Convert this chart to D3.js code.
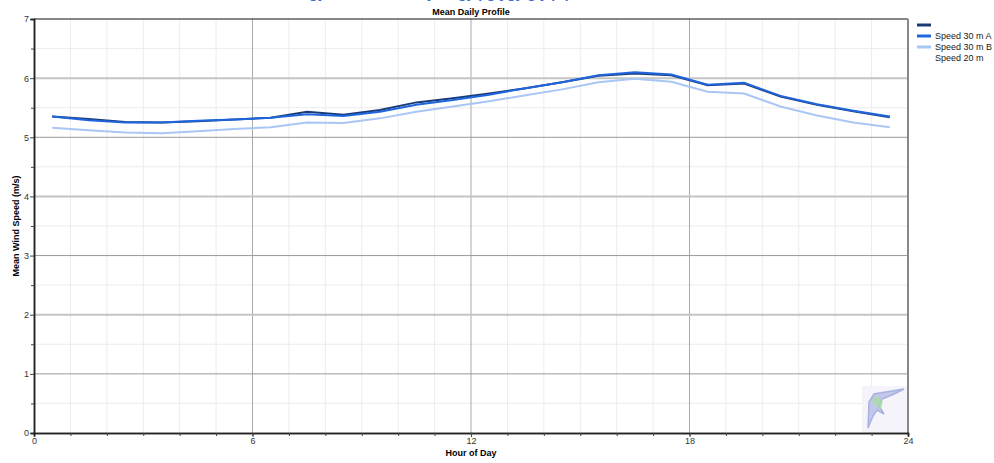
<!DOCTYPE html>
<html lang="en">
<head>
<meta charset="utf-8">
<title>Mean Daily Profile</title>
<script src="https://d3js.org/d3.v7.min.js"></script>
<style>
  body { margin: 0; background-color: #fff; }
  svg { display: block; background-color: #fff; font-family: "Liberation Sans", Arial, sans-serif; }
  .tick text { fill: #333; font-size: 9px; }
</style>
</head>
<body>
<script>

// hours of day (mid-hour bins)
var hours = [0.5, 1.5, 2.5, 3.5, 4.5, 5.5, 6.5, 7.5, 8.5, 9.5, 10.5, 11.5,
             12.5, 13.5, 14.5, 15.5, 16.5, 17.5, 18.5, 19.5, 20.5, 21.5, 22.5, 23.5];

var speed30A = [5.35, 5.31, 5.26, 5.25, 5.27, 5.30, 5.33, 5.43, 5.38, 5.46, 5.59, 5.66,
                5.74, 5.83, 5.93, 6.04, 6.08, 6.05, 5.88, 5.91, 5.69, 5.55, 5.44, 5.34];
var speed30B = [5.35, 5.29, 5.25, 5.25, 5.28, 5.30, 5.33, 5.39, 5.36, 5.43, 5.55, 5.63,
                5.72, 5.83, 5.93, 6.05, 6.10, 6.06, 5.89, 5.92, 5.70, 5.56, 5.45, 5.35];
var speed20 = [5.16, 5.12, 5.08, 5.07, 5.10, 5.14, 5.17, 5.25, 5.24, 5.32, 5.43, 5.52,
               5.61, 5.71, 5.81, 5.93, 5.99, 5.94, 5.77, 5.74, 5.52, 5.37, 5.25, 5.17];

var seriesNames = ["Speed 30 m A", "Speed 30 m B", "Speed 20 m"];
var seriesColors = ["#1a3a78", "#1f66dd", "#a9c6f5"];
var xTicks = [0, 6, 12, 18, 24];
var yTicks = [0, 1, 2, 3, 4, 5, 6, 7];

var width = 994, height = 463;
var margin = { top: 19, right: 86, bottom: 30, left: 34 };
var plotW = width - margin.left - margin.right;
var plotH = height - margin.top - margin.bottom;

var svg = d3.select("body").append("svg")
  .attr("width", width)
  .attr("height", height);

// heading above the chart, mostly cut off by the top edge
svg.append("text")
  .attr("x", 240)
  .attr("y", -2)
  .attr("font-size", 14)
  .attr("font-weight", "bold")
  .attr("fill", "#3b6fd0")
  .text("Wind Energy Resource Analysis gy pg ygy g y pq");

var x = d3.scaleLinear().domain([0, 24]).range([0, plotW]);
var y = d3.scaleLinear().domain([0, 7]).range([plotH, 0]);

var g = svg.append("g").attr("transform", "translate(" + margin.left + "," + margin.top + ")");

// minor grid
g.append("g").selectAll("line")
  .data(d3.range(1, 24).filter(function(d) { return d % 6 !== 0; }))
  .enter().append("line")
  .attr("x1", function(d) { return x(d); }).attr("x2", function(d) { return x(d); })
  .attr("y1", 0).attr("y2", plotH)
  .attr("stroke", "#ececec").attr("stroke-width", 1);

g.append("g").selectAll("line")
  .data(d3.range(0.5, 7, 1))
  .enter().append("line")
  .attr("x1", 0).attr("x2", plotW)
  .attr("y1", function(d) { return y(d); }).attr("y2", function(d) { return y(d); })
  .attr("stroke", "#ececec").attr("stroke-width", 1);

// major grid
g.append("g").selectAll("line")
  .data([6, 12, 18])
  .enter().append("line")
  .attr("x1", function(d) { return x(d); }).attr("x2", function(d) { return x(d); })
  .attr("y1", 0).attr("y2", plotH)
  .attr("stroke", "#aaa").attr("stroke-width", 1);

g.append("g").selectAll("line")
  .data([1, 2, 3, 4, 5, 6])
  .enter().append("line")
  .attr("x1", 0).attr("x2", plotW)
  .attr("y1", function(d) { return y(d); }).attr("y2", function(d) { return y(d); })
  .attr("stroke", function(d) { return d % 2 === 0 ? "#c4c4c4" : "#999"; })
  .attr("stroke-width", function(d) { return d % 2 === 0 ? 2 : 1; });

// logo in the corner
var logo = g.append("g").attr("transform", "translate(" + (x(24) - 46) + "," + (plotH - 47) + ")");
logo.append("rect").attr("width", 46).attr("height", 47).attr("fill", "#f6f4fb");
logo.append("path")
  .attr("d", "M6,42 L7,16 L12,8 L42,3 L30,9 L20,13 L17,20 L22,28 L15,24 L11,30 Z")
  .attr("fill", "#c3c8ea").attr("stroke", "#a7b2e0").attr("stroke-width", 1.5);
logo.append("path")
  .attr("d", "M9,14 L15,10 L21,16 L19,23 L13,19 Z")
  .attr("fill", "#a8dca3").attr("opacity", 0.8);

// frame
g.append("line").attr("x1", 0).attr("x2", plotW).attr("y1", 0).attr("y2", 0)
  .attr("stroke", "#111").attr("stroke-width", 1.2);
g.append("line").attr("x1", plotW).attr("x2", plotW).attr("y1", 0).attr("y2", plotH)
  .attr("stroke", "#888").attr("stroke-width", 2);

// lines
var line = d3.line()
  .x(function(d) { return x(d[0]); })
  .y(function(d) { return y(d[1]); });

[speed30A, speed30B, speed20].forEach(function(vals, i) {
  g.append("path")
    .datum(hours.map(function(h, j) { return [h, vals[j]]; }))
    .attr("fill", "none")
    .attr("stroke", seriesColors[i])
    .attr("stroke-width", 2)
    .attr("d", line);
});

// axes
g.append("g")
  .attr("transform", "translate(0," + plotH + ")")
  .call(d3.axisBottom(x).tickValues(xTicks).tickSize(4).tickPadding(1).tickFormat(d3.format("d")));
g.append("g")
  .attr("transform", "translate(0," + plotH + ")")
  .call(d3.axisBottom(x).tickValues(d3.range(1, 24)).tickSize(3).tickFormat(""));

g.append("g")
  .call(d3.axisLeft(y).tickValues(yTicks).tickSize(4).tickPadding(1).tickFormat(d3.format("d")));
g.append("g")
  .call(d3.axisLeft(y).tickValues(d3.range(0.5, 7, 1)).tickSize(3).tickFormat(""));

g.selectAll(".domain").attr("stroke", "#222").attr("stroke-width", 1.5);
g.selectAll(".tick line").attr("stroke", "#444");

// titles
svg.append("text")
  .attr("x", margin.left + plotW / 2)
  .attr("y", 15)
  .attr("text-anchor", "middle")
  .attr("font-size", 9)
  .attr("font-weight", "bold")
  .text("Mean Daily Profile");

svg.append("text")
  .attr("x", margin.left + plotW / 2)
  .attr("y", 456)
  .attr("text-anchor", "middle")
  .attr("font-size", 9)
  .attr("font-weight", "bold")
  .text("Hour of Day");

svg.append("text")
  .attr("transform", "translate(19," + (margin.top + plotH / 2) + ") rotate(-90)")
  .attr("text-anchor", "middle")
  .attr("font-size", 9)
  .attr("font-weight", "bold")
  .text("Mean Wind Speed (m/s)");

// legend (labels sit one row below their swatches, as in the source)
var legend = svg.append("g").attr("transform", "translate(917,25)");
legend.selectAll("line")
  .data(seriesColors)
  .enter().append("line")
  .attr("x1", 0).attr("x2", 14)
  .attr("y1", function(d, i) { return i * 11; })
  .attr("y2", function(d, i) { return i * 11; })
  .attr("stroke", function(d) { return d; })
  .attr("stroke-width", 3);
legend.selectAll("text")
  .data(seriesNames)
  .enter().append("text")
  .attr("x", 18)
  .attr("y", function(d, i) { return (i + 1) * 11 + 3; })
  .attr("font-size", 9)
  .attr("fill", "#222")
  .text(function(d) { return d; });

</script>
</body>
</html>
